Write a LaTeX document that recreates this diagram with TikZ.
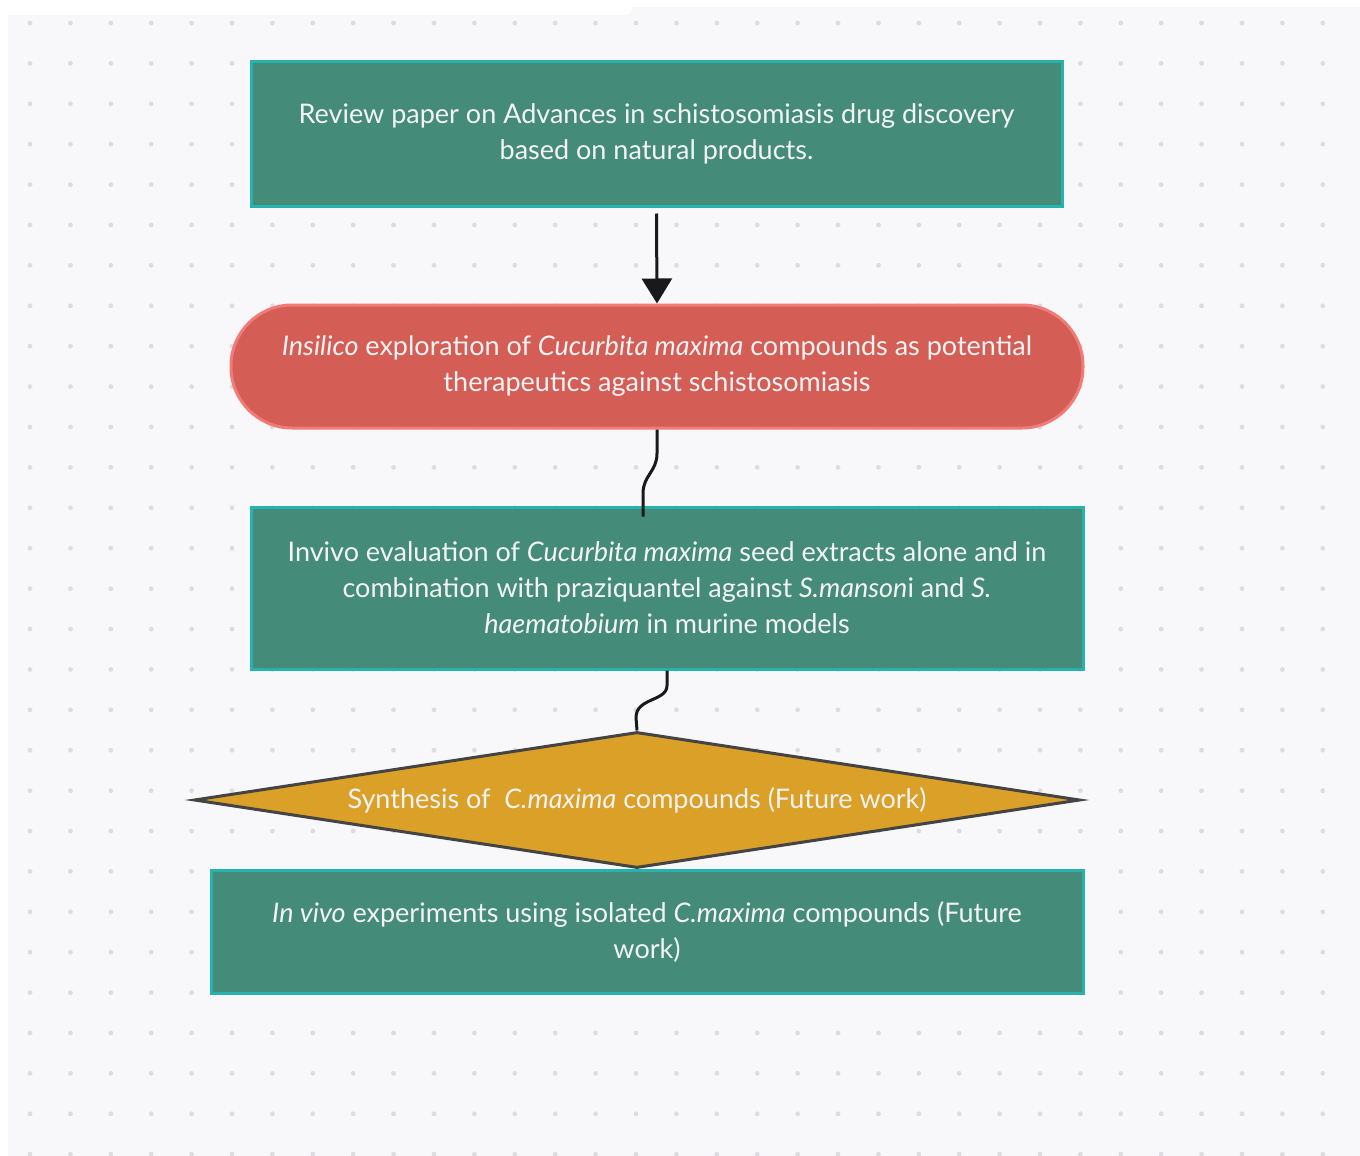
\documentclass[tikz,border=0pt]{standalone}
\usepackage{fontspec}
\setmainfont{Lato}
\usepackage{tikz}
\usetikzlibrary{shapes.geometric,arrows.meta}
\definecolor{bggray}{HTML}{F8F8FA}
\definecolor{dotc}{HTML}{DCDCE1}
\definecolor{grnfill}{HTML}{458B79}
\definecolor{grnbord}{HTML}{26B2AD}
\definecolor{redfill}{HTML}{D45D56}
\definecolor{redbord}{HTML}{F27A77}
\definecolor{yfill}{HTML}{DAA028}
\definecolor{ydark}{HTML}{444444}
\definecolor{txtc}{HTML}{F3F3F3}

\begin{document}
\begin{tikzpicture}[x=1pt,y=-1pt,
  every node/.style={text=txtc, font=\fontsize{27}{36}\selectfont, align=center, line width=3pt, inner sep=0pt},
  gbox/.style={rectangle, draw=grnbord, fill=grnfill},
  rbox/.style={rectangle, rounded corners=61pt, draw=redbord, fill=redfill},
  ybox/.style={diamond, aspect=6.4, draw=ydark, fill=yfill},
  link/.style={draw=black!90, line width=3pt}]
\useasboundingbox (0,0) rectangle (1360,1156);
\fill[white] (0,0) rectangle (1360,1156);
\fill[bggray] (8,7) rectangle (1360,1156);
\fill[white,rounded corners=8pt] (0,-10) rectangle (632,15);
\foreach \i in {0,...,32}
  \foreach \j in {0,...,28}
    \fill[dotc] (30+40.4*\i,23+40.4*\j) circle (2.4pt);
\node (n1) [gbox, minimum width=811pt, minimum height=144pt] at (656.5,134)
  {Review paper on Advances in schistosomiasis drug discovery\\based on natural products.};
\node (n2) [rbox, minimum width=852pt, minimum height=123pt] at (657,366.5)
  {\textit{Insilico} exploration of \textit{Cucurbita maxima} compounds as potential\\therapeutics against schistosomiasis};
\node (n3) [gbox, minimum width=832pt, minimum height=162pt] at (667,588)
  {Invivo evaluation of \textit{Cucurbita maxima} seed extracts alone and in\\combination with praziquantel against \textit{S.manson}i and \textit{S.}\\\textit{haematobium} in murine models};
\node (n4) [ybox, minimum width=886pt, minimum height=136pt] at (637,800)
  {Synthesis of \ \textit{C.maxima} compounds (Future work)};
\node (n5) [gbox, minimum width=872pt, minimum height=123pt] at (647,931.5)
  {\textit{In vivo} experiments using isolated \textit{C.maxima} compounds (Future\\work)};
\draw[link,-{Triangle[length=25pt,width=30pt]}] ([yshift=-6pt]n1.south) -- (n2.north);
\draw[link] (n2.south) -- ++(0,24) .. controls +(0,18) and +(0,-18) .. ++(-14,40) -- ([xshift=-24pt,yshift=-11pt]n3.north);
\draw[link] (n3.south) -- ++(0,15) .. controls +(0,16) and +(0,-20) .. ++(-31,32) -- (n4.north);
\end{tikzpicture}
\end{document}
